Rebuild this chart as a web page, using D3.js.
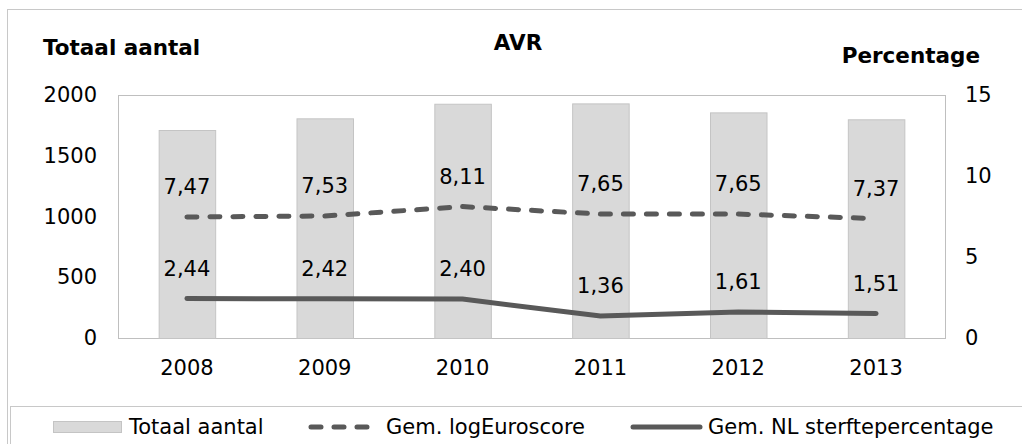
<!DOCTYPE html>
<html>
<head>
<meta charset="utf-8">
<script src="https://cdn.jsdelivr.net/npm/d3@7"></script>
<style>
  body { margin: 0; background: #fff; }
  svg { font-family: "DejaVu Sans", Verdana, sans-serif; }
</style>
</head>
<body>
<svg id="chart"></svg>
<script>
// data
var years = ["2008", "2009", "2010", "2011", "2012", "2013"];
var totaal = [1712, 1808, 1928, 1931, 1857, 1800];
var euroscore = [7.47, 7.53, 8.11, 7.65, 7.65, 7.37];
var sterfte = [2.44, 2.42, 2.40, 1.36, 1.61, 1.51];
var leftTicks = [0, 500, 1000, 1500, 2000];
var rightTicks = [0, 5, 10, 15];
var seriesNames = ["Totaal aantal", "Gem. logEuroscore", "Gem. NL sterftepercentage"];

var width = 1022, height = 444;
var plot = { left: 118, top: 95, right: 945, bottom: 338 };
var lineColor = "#595959";
var fs = "21px";

var svg = d3.select("#chart").attr("width", width).attr("height", height);

// outer frame
svg.append("rect")
    .attr("x", 7.5).attr("y", 9.5)
    .attr("width", 1030).attr("height", 460)
    .attr("fill", "none").attr("stroke", "#c8c8c8");

// scales
var x = d3.scaleBand().domain(years).range([plot.left, plot.right]).paddingInner(0.59).paddingOuter(0.295);
var yLeft = d3.scaleLinear().domain([0, 2000]).range([plot.bottom, plot.top]);
var yRight = d3.scaleLinear().domain([0, 15]).range([plot.bottom, plot.top]);
var xc = function (d) { return x(d) + x.bandwidth() / 2; };

// plot area box
svg.append("rect")
    .attr("x", plot.left + 0.5).attr("y", plot.top + 0.5)
    .attr("width", plot.right - plot.left).attr("height", plot.bottom - plot.top)
    .attr("fill", "none").attr("stroke", "#bfbfbf");

// bars
svg.selectAll(".bar")
    .data(totaal)
    .enter().append("rect")
    .attr("class", "bar")
    .attr("x", function (d, i) { return x(years[i]) + 0.5; })
    .attr("y", function (d) { return yLeft(d) + 0.5; })
    .attr("width", x.bandwidth())
    .attr("height", function (d) { return yLeft(0) - yLeft(d); })
    .attr("fill", "#d9d9d9")
    .attr("stroke", "#c4c4c4");

// axes (labels only)
var axL = svg.append("g").attr("transform", "translate(" + plot.left + ",0)")
    .call(d3.axisLeft(yLeft).tickValues(leftTicks).tickFormat(d3.format("d")).tickSize(0).tickPadding(21));
var axR = svg.append("g").attr("transform", "translate(" + plot.right + ",0)")
    .call(d3.axisRight(yRight).tickValues(rightTicks).tickFormat(d3.format("d")).tickSize(0).tickPadding(20));
var axX = svg.append("g").attr("transform", "translate(0," + plot.bottom + ")")
    .call(d3.axisBottom(x).tickSize(0).tickPadding(22));
[axL, axR, axX].forEach(function (g) {
    g.select(".domain").remove();
    g.selectAll("text").attr("font-size", fs).attr("font-family", "DejaVu Sans").attr("fill", "#000");
});

// lines
var line = d3.line()
    .x(function (d, i) { return xc(years[i]); })
    .y(function (d) { return yRight(d); });

svg.append("path").datum(euroscore)
    .attr("d", line)
    .attr("fill", "none").attr("stroke", lineColor)
    .attr("stroke-width", 5).attr("stroke-linecap", "round")
    .attr("stroke-dasharray", "10,13");

svg.append("path").datum(sterfte)
    .attr("d", line)
    .attr("fill", "none").attr("stroke", lineColor)
    .attr("stroke-width", 5).attr("stroke-linecap", "round");

// value labels
var fmt = function (v) { return d3.format(".2f")(v).replace(".", ","); };
[euroscore, sterfte].forEach(function (series) {
    svg.selectAll(null)
        .data(series)
        .enter().append("text")
        .attr("x", function (d, i) { return xc(years[i]); })
        .attr("y", function (d) { return yRight(d) - 30; })
        .attr("dy", "0.35em")
        .attr("text-anchor", "middle")
        .attr("font-size", fs)
        .attr("fill", "#000")
        .text(fmt);
});

// titles
svg.append("text").attr("x", 518).attr("y", 50).attr("text-anchor", "middle")
    .attr("font-size", "21.5px").attr("font-weight", "bold").text("AVR");
svg.append("text").attr("x", 43).attr("y", 55)
    .attr("font-size", "21.5px").attr("font-weight", "bold").text("Totaal aantal");
svg.append("text").attr("x", 980).attr("y", 63).attr("text-anchor", "end")
    .attr("font-size", "21.5px").attr("font-weight", "bold").text("Percentage");

// legend
svg.append("rect")
    .attr("x", 10.5).attr("y", 406.5)
    .attr("width", 1030).attr("height", 60)
    .attr("fill", "none").attr("stroke", "#c8c8c8");

var legY = 427;
svg.append("rect").attr("x", 53.5).attr("y", legY - 5.5).attr("width", 68).attr("height", 11)
    .attr("fill", "#d9d9d9").attr("stroke", "#c4c4c4");
svg.append("line").attr("x1", 311).attr("x2", 375).attr("y1", legY).attr("y2", legY)
    .attr("stroke", lineColor).attr("stroke-width", 5).attr("stroke-linecap", "round")
    .attr("stroke-dasharray", "10,13");
svg.append("line").attr("x1", 633).attr("x2", 700).attr("y1", legY).attr("y2", legY)
    .attr("stroke", lineColor).attr("stroke-width", 5).attr("stroke-linecap", "round");

var legX = [129, 386, 708];
svg.selectAll(".leg")
    .data(seriesNames)
    .enter().append("text")
    .attr("class", "leg")
    .attr("x", function (d, i) { return legX[i]; })
    .attr("y", legY)
    .attr("dy", "0.35em")
    .attr("font-size", fs)
    .attr("fill", "#000")
    .text(function (d) { return d; });
</script>
</body>
</html>
